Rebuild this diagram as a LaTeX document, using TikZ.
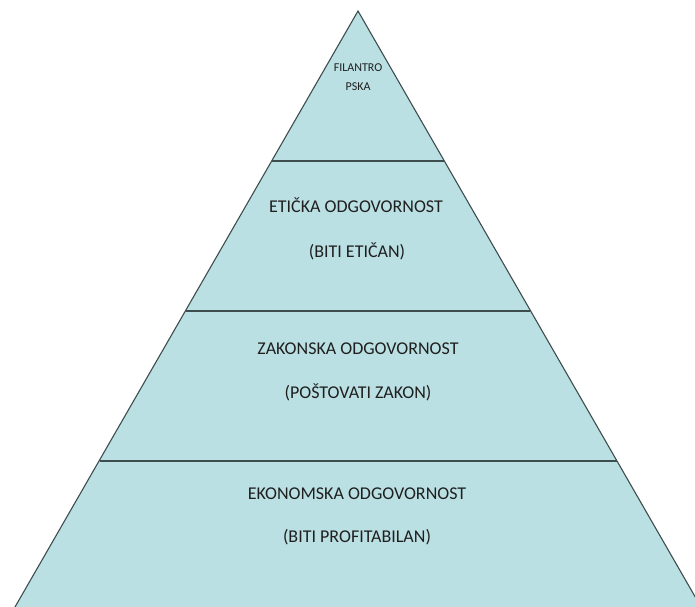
\documentclass[tikz,border=0pt]{standalone}
\usepackage{fontspec}
\setmainfont{Carlito}
\definecolor{pyrfill}{HTML}{BBE0E3}
\definecolor{pyrline}{HTML}{3E4D4E}
\tikzset{
  lvltext/.style={font=\fontsize{18bp}{21bp}\selectfont, text=black!88, inner sep=0pt, anchor=center},
  toptext/.style={font=\fontsize{12bp}{19bp}\selectfont, text=black!88, inner sep=0pt, align=center, anchor=center},
  divider/.style={draw=pyrline, line width=1.7bp},
  edge/.style={draw=pyrline, line width=1.1bp}
}
\begin{document}
\begin{tikzpicture}[x=1bp,y=-1bp]
\useasboundingbox (0,0) rectangle (695,607);
\clip (0,0) rectangle (695,607);
\coordinate (apex) at (358,11);
\coordinate (bl) at (-4,640);
\coordinate (br) at (720,640);
\fill[pyrfill] (apex) -- (bl) -- (br) -- cycle;
\draw[edge] (bl) -- (apex) -- (br);
\coordinate (l1) at (272,161); \coordinate (r1) at (444,161);
\coordinate (l2) at (186,311); \coordinate (r2) at (530,311);
\coordinate (l3) at (100,461); \coordinate (r3) at (617,461);
\draw[divider] (l1) -- (r1);
\draw[divider] (l2) -- (r2);
\draw[divider] (l3) -- (r3);
\node[toptext] (fil) at (358,77) {FILANTRO\\PSKA};
\node[lvltext] (et1) at (356,205) {ETIČKA ODGOVORNOST};
\node[lvltext] (et2) at (357,251) {(BITI ETIČAN)};
\node[lvltext] (za1) at (358,349) {ZAKONSKA ODGOVORNOST};
\node[lvltext] (za2) at (358,392) {(POŠTOVATI ZAKON)};
\node[lvltext] (ek1) at (357,494) {EKONOMSKA ODGOVORNOST};
\node[lvltext] (ek2) at (357,537) {(BITI PROFITABILAN)};
\end{tikzpicture}
\end{document}
